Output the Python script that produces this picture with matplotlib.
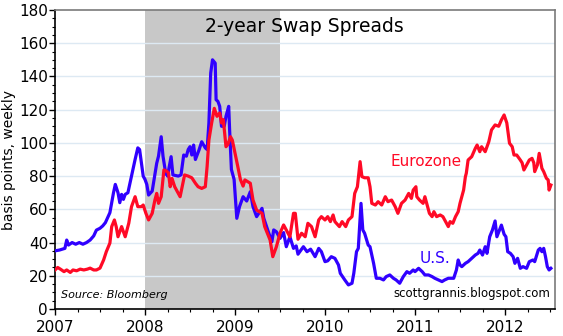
import matplotlib
matplotlib.use("Agg")
import matplotlib.pyplot as plt
from matplotlib.ticker import MultipleLocator
import numpy as np

# U.S. 2-year swap spread (bp)
us_dates = [
    2007.00, 2007.05, 2007.08, 2007.11, 2007.13, 2007.15, 2007.19, 2007.23, 2007.27, 2007.31,
    2007.35, 2007.39, 2007.43, 2007.46, 2007.50, 2007.53, 2007.56, 2007.61, 2007.65, 2007.67,
    2007.70, 2007.72, 2007.74, 2007.76, 2007.78, 2007.81, 2007.85, 2007.89, 2007.92, 2007.94,
    2007.96, 2007.98, 2008.00, 2008.02, 2008.04, 2008.08, 2008.13, 2008.15, 2008.18, 2008.20,
    2008.23, 2008.25, 2008.29, 2008.31, 2008.37, 2008.40, 2008.43, 2008.46, 2008.48, 2008.50,
    2008.52, 2008.54, 2008.56, 2008.60, 2008.63, 2008.67, 2008.69, 2008.71, 2008.73, 2008.75,
    2008.78, 2008.79, 2008.81, 2008.83, 2008.85, 2008.88, 2008.90, 2008.93, 2008.94, 2008.96,
    2008.99, 2009.02, 2009.05, 2009.09, 2009.13, 2009.17, 2009.20, 2009.24, 2009.30, 2009.32,
    2009.37, 2009.41, 2009.43, 2009.46, 2009.50, 2009.54, 2009.57, 2009.61, 2009.65, 2009.68,
    2009.70, 2009.72, 2009.76, 2009.80, 2009.84, 2009.89, 2009.93, 2009.96, 2010.00, 2010.03,
    2010.07, 2010.11, 2010.15, 2010.17, 2010.22, 2010.26, 2010.30, 2010.32, 2010.35, 2010.37,
    2010.40, 2010.42, 2010.44, 2010.48, 2010.50, 2010.54, 2010.57, 2010.61, 2010.65, 2010.68,
    2010.72, 2010.76, 2010.79, 2010.83, 2010.87, 2010.91, 2010.94, 2010.98, 2011.00, 2011.04,
    2011.08, 2011.11, 2011.15, 2011.19, 2011.22, 2011.26, 2011.30, 2011.33, 2011.37, 2011.43,
    2011.46, 2011.48, 2011.50, 2011.52, 2011.56, 2011.59, 2011.63, 2011.67, 2011.70, 2011.72,
    2011.75, 2011.78, 2011.80, 2011.83, 2011.86, 2011.89, 2011.91, 2011.94, 2011.96, 2011.99,
    2012.01, 2012.03, 2012.06, 2012.09, 2012.11, 2012.14, 2012.17, 2012.20, 2012.24, 2012.27,
    2012.31, 2012.33, 2012.37, 2012.39, 2012.41, 2012.43, 2012.45, 2012.47, 2012.49, 2012.51,
]
us_values = [
    35, 35.5, 36, 36.5, 41.5, 38.5, 40, 39, 40, 39,
    40, 41.5, 44, 47.5, 48.6, 50, 52, 58, 70, 75,
    70, 64, 69, 66, 69, 70, 80, 90, 97, 96,
    88, 80, 78, 75, 68.6, 71, 87.7, 92, 103.7, 92,
    81.7, 80, 91.7, 80.7, 80, 80.7, 92.7, 92, 96, 97.7,
    92.7, 98.7, 90, 95.7, 100.7, 97, 96, 112, 142, 150,
    148, 126, 125, 122, 110, 110, 116, 122, 108, 84,
    78, 54.6, 61.6, 67.6, 65, 70.6, 61.6, 55.6, 60.6, 54.6,
    46.5, 40.5, 47.6, 46.5, 42.5, 46, 37.5, 43.5, 36.5, 38,
    33, 34.5, 37.5, 34.5, 36, 31.5, 36.5, 34.5, 28.5, 29,
    31.5, 30.5, 26.5, 21.5, 17.5, 14.5, 15.5, 21.5, 34.5, 36.5,
    63.6, 47.6, 45.6, 38.5, 37.5, 27.5, 18.5, 18.5, 17.5, 19.5,
    20.5, 18.5, 17.5, 15.5, 19.5, 22.5, 21.5, 23.5, 22.5, 24.5,
    22.5, 20.5, 20.5, 19.5, 18.5, 17.5, 16.5, 17.5, 18.5, 18.5,
    23.5, 29.5, 26.5, 25.5, 27.5, 28.5, 30.5, 32.5, 33.5, 35.5,
    32.5, 37.5, 33.5, 43.5, 47.5, 53, 43.5, 47.6, 50.5, 45,
    43.5, 34.5, 33.5, 31.5, 27.5, 30.5, 24.5, 25.5, 24.5, 28.5,
    29.5, 28.5, 35.5, 36.5, 34.5, 36.5, 31.5, 25.5, 23.5, 24.5,
]

# Eurozone 2-year swap spread (bp)
eu_dates = [
    2007.00, 2007.03, 2007.06, 2007.10, 2007.13, 2007.17, 2007.20, 2007.24, 2007.28, 2007.32,
    2007.36, 2007.39, 2007.43, 2007.46, 2007.50, 2007.54, 2007.57, 2007.61, 2007.63, 2007.66,
    2007.68, 2007.70, 2007.74, 2007.78, 2007.82, 2007.85, 2007.89, 2007.92, 2007.96, 2007.98,
    2008.01, 2008.04, 2008.08, 2008.11, 2008.13, 2008.15, 2008.18, 2008.21, 2008.24, 2008.26,
    2008.28, 2008.30, 2008.33, 2008.39, 2008.44, 2008.48, 2008.52, 2008.56, 2008.59, 2008.63,
    2008.67, 2008.69, 2008.71, 2008.74, 2008.77, 2008.80, 2008.83, 2008.85, 2008.87, 2008.90,
    2008.92, 2008.95, 2008.97, 2009.00, 2009.03, 2009.06, 2009.09, 2009.11, 2009.17, 2009.20,
    2009.24, 2009.30, 2009.33, 2009.39, 2009.42, 2009.46, 2009.50, 2009.54, 2009.57, 2009.61,
    2009.65, 2009.67, 2009.70, 2009.74, 2009.78, 2009.81, 2009.85, 2009.89, 2009.93, 2009.96,
    2010.00, 2010.03, 2010.06, 2010.09, 2010.11, 2010.16, 2010.19, 2010.23, 2010.26, 2010.30,
    2010.33, 2010.36, 2010.39, 2010.41, 2010.44, 2010.48, 2010.50, 2010.52, 2010.56, 2010.59,
    2010.63, 2010.67, 2010.70, 2010.74, 2010.78, 2010.81, 2010.85, 2010.89, 2010.93, 2010.96,
    2010.98, 2011.01, 2011.02, 2011.05, 2011.09, 2011.11, 2011.13, 2011.16, 2011.19, 2011.21,
    2011.24, 2011.28, 2011.31, 2011.34, 2011.37, 2011.39, 2011.42, 2011.45, 2011.48, 2011.50,
    2011.52, 2011.54, 2011.56, 2011.57, 2011.59, 2011.63, 2011.67, 2011.69, 2011.72, 2011.74,
    2011.78, 2011.82, 2011.85, 2011.89, 2011.93, 2011.96, 2011.99, 2012.02, 2012.05, 2012.08,
    2012.10, 2012.13, 2012.17, 2012.19, 2012.21, 2012.24, 2012.27, 2012.30, 2012.32, 2012.33,
    2012.36, 2012.38, 2012.41, 2012.43, 2012.46, 2012.48, 2012.49, 2012.51,
]
eu_values = [
    23.5, 25, 24, 22.5, 23.5, 22, 23.5, 23, 24, 23.5,
    24, 24.6, 23.5, 23.5, 24.6, 29.5, 34.5, 39.7, 49.6, 53.6,
    49.6, 43.5, 49.6, 43.5, 51.7, 61.6, 67.6, 61.6, 61.6, 62.6,
    57.6, 53.6, 57.6, 65.6, 69.6, 63.6, 67.6, 83.7, 83, 82,
    73.6, 78.6, 73.6, 67.6, 80.7, 80, 79, 75.7, 73.6, 72.6,
    73.6, 85.7, 101.7, 111.8, 120.8, 116, 118, 112, 114, 97.7,
    99, 103.7, 101.7, 94, 86, 78, 74, 77.7, 75.7, 65.6,
    59.6, 57.6, 49.6, 41.5, 31.5, 37.5, 45.6, 50.6, 47.6, 43.5,
    57.6, 57.6, 42, 45.6, 43.5, 51.6, 49.6, 43.5, 53.6, 55.6,
    53.6, 55.6, 52.6, 56.6, 52.6, 49.6, 52.6, 49.6, 53.6, 55.6,
    69.6, 73.6, 88.7, 79.7, 79, 79, 73.6, 63.6, 62.6, 64.6,
    62.6, 67.6, 64.6, 65.6, 61.6, 57.6, 63.6, 65.6, 69.6, 66.6,
    71.6, 73.6, 67.6, 65.6, 63.6, 67.6, 63.6, 57.6, 55.6, 58.6,
    55.6, 56.6, 55.6, 52.6, 49.6, 52.6, 51.6, 55.6, 58.6, 63.6,
    67.6, 71.6, 79.7, 81.7, 89.7, 91.7, 96.7, 98.7, 94.7, 97.7,
    94.7, 100.7, 107.8, 110.8, 110, 113.8, 116.8, 112, 99.8, 97.7,
    92.7, 92.7, 89.7, 88, 83.7, 86.7, 89.7, 90.7, 88, 82.7,
    86.7, 93.7, 84.7, 82.7, 78.7, 77.7, 71.6, 74.6,
]

recession = (2008.0, 2009.5)
year_ticks = [2007, 2008, 2009, 2010, 2011, 2012]

blue = '#3000ff'
red = '#ff0a26'

fig = plt.figure(figsize=(5.63, 3.36), dpi=100)
ax = fig.add_axes([55 / 563, 1 - 309 / 336, 500 / 563, 299 / 336])

ax.axvspan(recession[0], recession[1], color='#c8c8c8', lw=0, zorder=0)
for v in range(20, 180, 20):
    ax.axhline(v, color='#dde9f3', lw=1, zorder=0.5)

ax.plot(us_dates, us_values, color=blue, lw=2.3, solid_joinstyle='round', zorder=3)
ax.plot(eu_dates, eu_values, color=red, lw=2.3, solid_joinstyle='round', zorder=3)

ax.set_xlim(2007, 2012 + 50 / 90)
ax.set_ylim(0, 180)
ax.set_xticks(year_ticks)
ax.set_xticklabels([str(y) for y in year_ticks])
ax.xaxis.set_minor_locator(MultipleLocator(0.25))
ax.yaxis.set_major_locator(MultipleLocator(20))
ax.yaxis.set_minor_locator(MultipleLocator(5))
ax.tick_params(axis='both', which='major', direction='out', length=4, width=1, labelsize=11)
ax.tick_params(axis='y', which='major', pad=1)
ax.tick_params(axis='x', which='major', pad=4)
ax.tick_params(axis='both', which='minor', direction='out', length=2, width=0.8)

for s in ['top', 'right']:
    ax.spines[s].set_color('#7a7a7a')
    ax.spines[s].set_linewidth(1.2)
for s in ['left', 'bottom']:
    ax.spines[s].set_color('black')
    ax.spines[s].set_linewidth(1.2)

ax.set_ylabel('basis points, weekly', fontsize=10, labelpad=2)

ax.text(2009.77, 170, '2-year Swap Spreads', fontsize=13.5, ha='center', va='center')
ax.text(2011.12, 88.7, 'Eurozone', color=red, fontsize=11, ha='center', va='center')
ax.text(2011.22, 30.7, 'U.S.', color=blue, fontsize=11, ha='center', va='center')
ax.text(0.012, 0.03, 'Source: Bloomberg', transform=ax.transAxes, fontsize=8,
        style='italic', ha='left', va='bottom')
ax.text(0.99, 0.03, 'scottgrannis.blogspot.com', transform=ax.transAxes, fontsize=8.5,
        ha='right', va='bottom')

fig.savefig('out.png', dpi=100)
